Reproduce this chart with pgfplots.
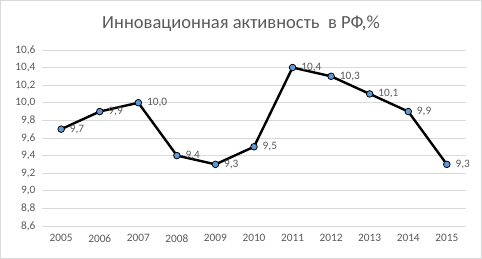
\documentclass[border=0pt]{standalone}
\usepackage{fontspec}
\setmainfont{Carlito}
\usepackage{pgfplots}
\pgfplotsset{compat=1.18}
\definecolor{txt}{HTML}{595959}
\definecolor{gridc}{HTML}{D9D9D9}
\definecolor{mk}{HTML}{5B9BD5}
\begin{document}
\begin{tikzpicture}[x=1pt,y=1pt]
\draw[draw=gridc, line width=0.8pt] (0.5,0.5) rectangle (481.5,258.5);
\node[text=txt, font=\fontsize{18.5}{22}\selectfont] at (241,235) {Инновационная активность\ \ в РФ,\%};
\begin{axis}[at={(42pt,33pt)}, anchor=south west, scale only axis, width=424pt, height=176pt,
  xmin=-0.5, xmax=10.5, ymin=8.6, ymax=10.6,
  ytick={8.6,8.8,9.0,9.2,9.4,9.6,9.8,10.0,10.2,10.4,10.6},
  xtick={0,1,2,3,4,5,6,7,8,9,10},
  xticklabels={2005,2006,2007,2008,2009,2010,2011,2012,2013,2014,2015},
  axis line style={draw=none}, major tick length=0pt,
  ymajorgrids, grid style={draw=gridc, line width=0.8pt},
  tick label style={text=txt, font=\fontsize{11.3}{13}\selectfont},
  yticklabel style={xshift=-3pt},
  xticklabel style={yshift=-5pt},
  /pgf/number format/.cd, use comma, fixed, fixed zerofill, precision=1, assume math mode=true,
  /pgfplots/.cd, clip=false]
\addplot[black, line width=2.4pt, mark=*, mark size=3.3pt,
  mark options={fill=mk, draw=black, line width=0.8pt},
  nodes near coords,
  nodes near coords style={anchor=west, xshift=5pt, text=txt, font=\fontsize{11.3}{13}\selectfont}]
coordinates {(0,9.7)(1,9.9)(2,10.0)(3,9.4)(4,9.3)(5,9.5)(6,10.4)(7,10.3)(8,10.1)(9,9.9)(10,9.3)};
\end{axis}
\end{tikzpicture}
\end{document}
